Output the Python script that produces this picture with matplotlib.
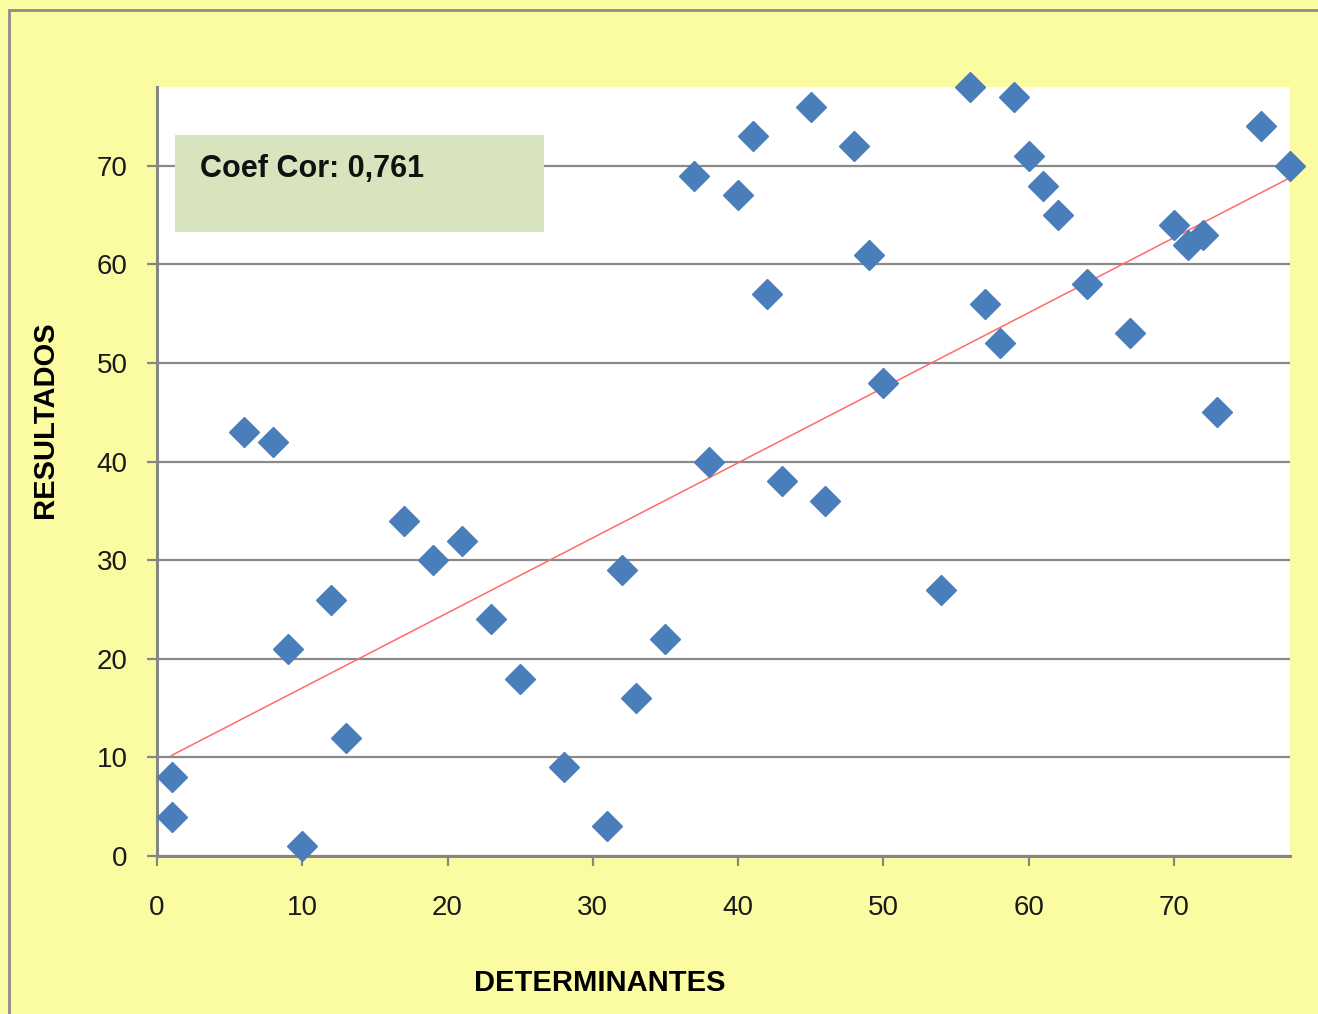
import numpy as np
import matplotlib.pyplot as plt
from matplotlib.patches import Rectangle

# data
determinantes = [1, 1, 6, 8, 9, 10, 12, 13, 17, 19, 21, 23, 25, 28, 31, 32, 33, 35,
                 37, 38, 40, 41, 42, 43, 45, 46, 48, 49, 50, 54, 56, 57, 58, 59,
                 60, 61, 62, 64, 67, 70, 71, 72, 73, 76, 78]
resultados = [8, 4, 43, 42, 21, 1, 26, 12, 34, 30, 32, 24, 18, 9, 3, 29, 16, 22,
              69, 40, 67, 73, 57, 38, 76, 36, 72, 61, 48, 27, 78, 56, 52, 77,
              71, 68, 65, 58, 53, 64, 62, 63, 45, 74, 70]
# trendline as drawn in the chart (end points)
trend_x = [1, 78]
trend_y = [10.2, 68.8]
x_ticks = [0, 10, 20, 30, 40, 50, 60, 70]
y_ticks = [0, 10, 20, 30, 40, 50, 60, 70]
coef_label = "Coef Cor: 0,761"

plt.rcParams['font.family'] = ['Liberation Sans', 'DejaVu Sans']

bg = "#FBFCA2"
fig = plt.figure(figsize=(13.18, 10.14), dpi=100, facecolor=bg)

# outer chart frame (left and top edges visible)
fig.patches.append(Rectangle((0.0065, -0.05), 1.2, 1.04, transform=fig.transFigure,
                             fill=False, edgecolor="#8C8C8C", linewidth=2))

ax = fig.add_axes([0.1191, 0.1558, 0.8597, 0.7584])
ax.set_facecolor("white")

ax.set_xlim(0, 78)
ax.set_ylim(0, 78)
ax.set_xticks(x_ticks)
ax.set_yticks(y_ticks)

ax.grid(axis="y", color="#8A8A8A", linewidth=1.6)
ax.set_axisbelow(True)

for s in ["top", "right"]:
    ax.spines[s].set_visible(False)
for s in ["left", "bottom"]:
    ax.spines[s].set_color("#868686")
    ax.spines[s].set_linewidth(2.2)

ax.tick_params(axis="both", colors="#868686", width=1.6, length=7, labelsize=20,
               labelcolor="#1A1A1A")
ax.tick_params(axis="x", pad=21)
ax.tick_params(axis="y", pad=14)

ax.plot(trend_x, trend_y, color="#FF6B6B", linewidth=1.1, zorder=3)

ax.plot(determinantes, resultados, linestyle="none", marker="D", markersize=15,
        color="#4A7EBB", markeredgecolor="#4A7EBB", zorder=4, clip_on=False)

# correlation box
ax.add_patch(Rectangle((0.0159, 0.812), 0.3257, 0.126, transform=ax.transAxes,
                       facecolor="#D8E4BE", edgecolor="none", zorder=5))
ax.text(0.038, 0.893, coef_label, transform=ax.transAxes, fontsize=22,
        fontweight="bold", va="center", ha="left", color="#111111", zorder=6)

ax.set_xlabel("DETERMINANTES", fontsize=21, fontweight="bold")
ax.set_ylabel("RESULTADOS", fontsize=21, fontweight="bold")
ax.xaxis.set_label_coords(0.391, -0.165)
ax.yaxis.set_label_coords(-0.099, 0.567)
ax.xaxis.label.set_va("center")
ax.yaxis.label.set_va("center")

fig.savefig("out.png", dpi=100, facecolor=bg)
